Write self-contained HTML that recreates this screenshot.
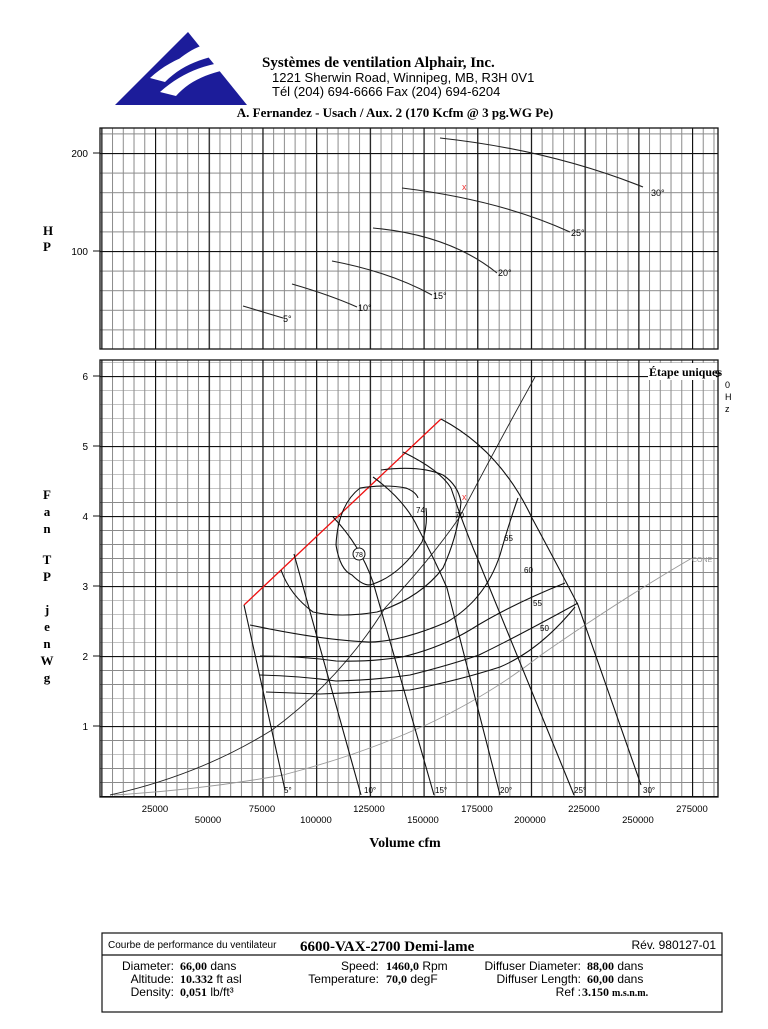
<!DOCTYPE html>
<html><head><meta charset="utf-8"><style>
body{margin:0;background:#fff;}
svg text{font-family:"Liberation Sans",sans-serif;}
svg .s, svg .s text{font-family:"Liberation Serif",serif;font-weight:bold;}
</style></head><body>
<svg width="768" height="1024" viewBox="0 0 768 1024" xmlns="http://www.w3.org/2000/svg">
<defs>
<pattern id="mb" patternUnits="userSpaceOnUse" x="101.3" y="796" width="10.74" height="14"><path d="M0.5 0V14M0 0.5H10.74" stroke="#8a8a8a" stroke-width="1" fill="none"/></pattern>
<pattern id="Mb" patternUnits="userSpaceOnUse" x="101.3" y="796" width="53.7" height="70"><path d="M0.5 0V70M0 0.5H53.7" stroke="#111" stroke-width="1.3" fill="none"/></pattern>
<pattern id="mt" patternUnits="userSpaceOnUse" x="101.3" y="349" width="10.74" height="19.6"><path d="M0.5 0V19.6M0 0.5H10.74" stroke="#8a8a8a" stroke-width="1" fill="none"/></pattern>
<pattern id="Mt" patternUnits="userSpaceOnUse" x="101.3" y="349" width="53.7" height="98"><path d="M0.5 0V98M0 0.5H53.7" stroke="#111" stroke-width="1.3" fill="none"/></pattern>
</defs>
<!-- logo -->
<polygon points="115,105 188,32 247,105" fill="#1c1c9a"/>
<path d="M150,78 C175,55 205,48 240,45 L242,52 C210,55 185,62 165,82 Z" fill="#fff"/>
<path d="M160,92 C185,70 210,62 245,60 L246,67 C215,70 192,78 176,96 Z" fill="#fff"/>
<path d="M178,60 C195,45 215,40 238,38 L238,43 C218,45 200,50 188,62 Z" fill="#fff"/>
<text x="262" y="67" class="s" font-size="15">Systèmes de ventilation Alphair, Inc.</text>
<text x="272" y="82" font-size="13">1221 Sherwin Road, Winnipeg, MB, R3H 0V1</text>
<text x="272" y="96" font-size="13">Tél (204) 694-6666 Fax (204) 694-6204</text>
<text x="395" y="117" class="s" font-size="13" text-anchor="middle">A. Fernandez - Usach / Aux. 2 (170 Kcfm @ 3 pg.WG Pe)</text>

<!-- top chart -->
<rect x="100" y="128" width="618" height="221" fill="url(#mt)"/>
<rect x="100" y="128" width="618" height="221" fill="url(#Mt)"/>
<rect x="100" y="128" width="618" height="221" fill="none" stroke="#111" stroke-width="1.3"/>
<path d="M93 153H100M93 251H100" stroke="#111"/>
<text x="88" y="157" font-size="10" text-anchor="end">200</text>
<text x="88" y="255" font-size="10" text-anchor="end">100</text>
<text x="43" y="235" class="s" font-size="13">H</text>
<text x="43" y="251" class="s" font-size="13">P</text>
<g fill="none" stroke="#222" stroke-width="1.1">
<path d="M440,138 Q550,150 643,187"/>
<path d="M402,188 Q500,200 570,232"/>
<path d="M373,228 Q450,235 497,273"/>
<path d="M332,261 Q390,272 432,295"/>
<path d="M292,284 Q330,295 357,307"/>
<path d="M243,306 L283,318"/>
</g>
<g font-size="9">
<text x="651" y="196">30°</text><text x="571" y="236">25°</text><text x="498" y="276">20°</text>
<text x="433" y="299">15°</text><text x="358" y="311">10°</text><text x="283" y="322">5°</text>
</g>
<text x="462" y="190" font-size="9" fill="#e33">x</text>

<!-- bottom chart -->
<rect x="100" y="360" width="618" height="437" fill="url(#mb)"/>
<rect x="100" y="360" width="618" height="437" fill="url(#Mb)"/>
<rect x="100" y="360" width="618" height="437" fill="none" stroke="#111" stroke-width="1.3"/>
<path d="M93 376H100M93 446H100M93 516H100M93 586H100M93 656H100M93 726H100" stroke="#111"/>
<g font-size="10" text-anchor="end">
<text x="88" y="380">6</text><text x="88" y="450">5</text><text x="88" y="520">4</text>
<text x="88" y="590">3</text><text x="88" y="660">2</text><text x="88" y="730">1</text>
</g>
<g font-size="9.5" text-anchor="middle">
<text x="155" y="812">25000</text><text x="262" y="812">75000</text><text x="369" y="812">125000</text>
<text x="477" y="812">175000</text><text x="584" y="812">225000</text><text x="692" y="812">275000</text>
<text x="208" y="823">50000</text><text x="316" y="823">100000</text><text x="423" y="823">150000</text>
<text x="530" y="823">200000</text><text x="638" y="823">250000</text>
</g>
<text x="405" y="847" class="s" font-size="14" text-anchor="middle">Volume cfm</text>
<g class="s" font-size="13" text-anchor="middle">
<text x="47" y="499">F</text><text x="47" y="516">a</text><text x="47" y="533">n</text>
<text x="47" y="564">T</text><text x="47" y="581">P</text>
<text x="47" y="614">j</text><text x="47" y="631">e</text><text x="47" y="648">n</text>
<text x="47" y="665">W</text><text x="47" y="682">g</text>
</g>
<rect x="648" y="363" width="68" height="17" fill="#fff"/>
<text x="649" y="376" class="s" font-size="12">Étape uniques</text>
<g font-size="9"><text x="715" y="377">5</text><text x="725" y="388">0</text><text x="725" y="400">H</text><text x="725" y="412">z</text></g>

<!-- system & cone -->
<path d="M110,795 Q200,775 272,730 Q340,680 385,608 Q430,560 459,518 Q500,440 535,377" fill="none" stroke="#222" stroke-width="0.9"/>
<path d="M114,795 Q200,790 283,775 Q360,755 426,725 Q490,695 541,655 Q620,600 692,558" fill="none" stroke="#999" stroke-width="0.9"/>
<text x="692" y="562" font-size="7" fill="#999">CONE</text>
<!-- red line -->
<path d="M244,605 L441,419" stroke="#e11" stroke-width="1.3"/>
<g fill="none" stroke="#111" stroke-width="1.1">
<path d="M441,419 Q500,450 532,518 Q560,570 578,605 L641,785"/>
<path d="M244,605 L285,790"/>
<path d="M294,554 L361,795"/>
<path d="M333,517 Q360,545 373,582 L434,795"/>
<path d="M373,477 Q405,500 418,528 Q435,560 447,588 L500,795"/>
<path d="M403,452 Q440,470 451,488 Q465,530 479,562 L574,795"/>
<path d="M336,545 Q338,505 360,488 Q385,484 406,488 Q416,492 418,498"/>
<path d="M336,545 Q340,570 352,575 Q365,588 373,584 Q400,575 422,542 Q428,525 426,508"/>
<path d="M381,470 Q420,465 443,475 Q458,485 461,502 Q458,535 443,568 Q420,598 377,612 Q340,618 313,612 Q290,595 281,570"/>
<path d="M250,625 Q320,640 369,642 Q400,642 447,622 Q485,600 500,555 Q510,520 518,498"/>
<path d="M260,656 Q300,656 336,661 Q370,662 402,657 Q440,648 470,630 Q510,605 565,583"/>
<path d="M260,675 Q300,676 336,681 Q375,680 410,675 Q450,665 479,655 Q520,635 578,603"/>
<path d="M266,692 L320,694 Q370,692 410,690 Q460,680 500,667 Q540,650 575,607"/>
</g>
<g font-size="8">
<text x="416" y="513">74</text><text x="455" y="518">70</text><text x="504" y="541">65</text>
<text x="524" y="573">60</text><text x="533" y="606">55</text><text x="540" y="631">50</text>
<text x="284" y="793">5°</text><text x="364" y="793">10°</text><text x="435" y="793">15°</text>
<text x="500" y="793">20°</text><text x="574" y="793">25°</text><text x="643" y="793">30°</text>
</g>
<circle cx="359" cy="554" r="6" fill="#fff" stroke="#111"/>
<text x="359" y="557" font-size="7" text-anchor="middle">78</text>
<text x="462" y="500" font-size="9" fill="#e33">x</text>

<!-- footer -->
<rect x="102" y="933" width="620" height="79" fill="none" stroke="#111" stroke-width="1.2"/>
<line x1="102" y1="955" x2="722" y2="955" stroke="#111" stroke-width="1.2"/>
<text x="108" y="948" font-size="10">Courbe de performance du ventilateur</text>
<text x="300" y="951" class="s" font-size="15">6600-VAX-2700 Demi-lame</text>
<text x="716" y="949" font-size="12" text-anchor="end">Rév. 980127-01</text>
<g font-size="12">
<text x="174" y="970" text-anchor="end">Diameter:</text><text x="174" y="983" text-anchor="end">Altitude:</text><text x="174" y="996" text-anchor="end">Density:</text>
<text x="379" y="970" text-anchor="end">Speed:</text><text x="379" y="983" text-anchor="end">Temperature:</text>
<text x="581" y="970" text-anchor="end">Diffuser Diameter:</text><text x="581" y="983" text-anchor="end">Diffuser Length:</text><text x="581" y="996" text-anchor="end">Ref :</text>
<text x="180" y="970"><tspan class="s">66,00</tspan>  dans</text>
<text x="180" y="983"><tspan class="s">10.332</tspan>  ft asl</text>
<text x="180" y="996"><tspan class="s">0,051</tspan>  lb/ft³</text>
<text x="386" y="970"><tspan class="s">1460,0</tspan>  Rpm</text>
<text x="386" y="983"><tspan class="s">70,0</tspan>  degF</text>
<text x="587" y="970"><tspan class="s">88,00</tspan>  dans</text>
<text x="587" y="983"><tspan class="s">60,00</tspan>  dans</text>
<text x="582" y="996" class="s">3.150 <tspan font-size="10">m.s.n.m.</tspan></text>
</g>
</svg>
</body></html>
